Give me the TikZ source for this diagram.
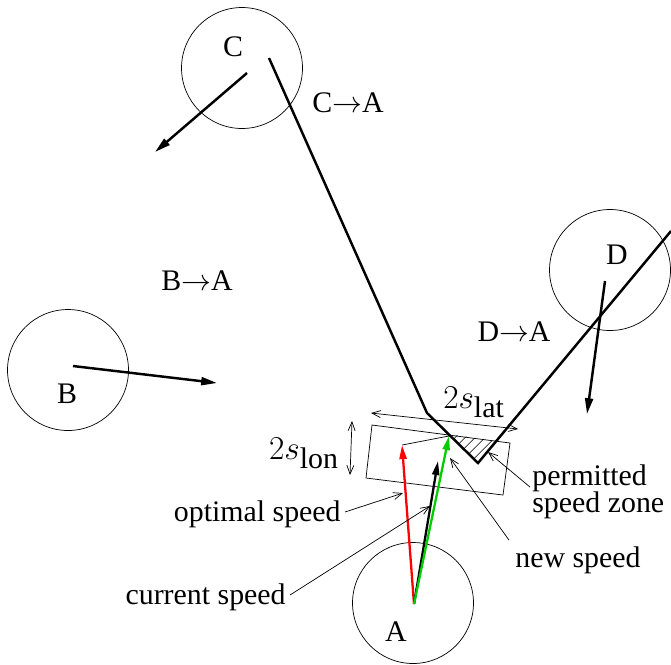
\RequirePackage{fix-cm}
\documentclass[tikz,border=0pt]{standalone}
\usepackage[no-math]{fontspec}
\setmainfont{Liberation Serif}
\usetikzlibrary{arrows.meta, patterns.meta, positioning}

\begin{document}
\begin{tikzpicture}[
    x=0.02cm, y=-0.02cm,
    agent/.style={draw, circle, thin, minimum size=2.42cm, inner sep=0pt},
    lbl/.style={font=\fontsize{17}{15.5}\selectfont, inner sep=0pt},
    dimlbl/.style={font=\fontsize{19}{22}\selectfont, inner sep=0pt},
    route/.style={line width=1.4pt},
    motion/.style={line width=1.4pt, -{Triangle[length=9pt,width=4.5pt]}},
    speed/.style={line width=1.3pt, -{Triangle[length=8pt,width=4pt]}},
    leader/.style={thin, -{Straight Barb[length=5pt,width=4pt]}},
    dimen/.style={thin, {Straight Barb[length=5pt,width=4pt]}-{Straight Barb[length=5pt,width=4pt]}}
]
    \useasboundingbox (0,0) rectangle (671,664);

    % --- agents ---
    \node[agent] (C) at (242,68) {};
    \node[agent] (B) at (68,370) {};
    \node[agent] (D) at (610,270) {};
    \node[agent] (A) at (413,603) {};
    \node[lbl] (labC) at (233,47) {C};
    \node[lbl] (labB) at (67,394) {B};
    \node[lbl] (labD) at (617,255) {D};
    \node[lbl] (labA) at (396,632) {A};

    % --- motion of the others ---
    \coordinate (c0) at (247,73);  \coordinate (c1) at (155,152);
    \coordinate (b0) at (73,366);  \coordinate (b1) at (217,383);
    \coordinate (d0) at (605,281); \coordinate (d1) at (587,414);
    \draw[motion] (c0) -- (c1);
    \draw[motion] (b0) -- (b1);
    \draw[motion] (d0) -- (d1);

    \node[lbl] (ca) at (348,103) {C$\rightarrow$A};
    \node[lbl] (ba) at (197,281) {B$\rightarrow$A};
    \node[lbl] (da) at (514,332) {D$\rightarrow$A};

    % --- route bounds ---
    \coordinate (r0) at (269,58);
    \coordinate (r1) at (427,413);
    \coordinate (r2) at (478,463);
    \coordinate (r3) at (671,231);

    % --- permitted zone ---
    \coordinate (z1) at (449.6,434.1);
    \coordinate (z2) at (496.2,441.2);
    \fill[pattern={Lines[angle=45,distance=4pt,line width=0.4pt]}] (z1) -- (z2) -- (r2) -- cycle;
    \coordinate (q1) at (372,425); \coordinate (q2) at (510,443);
    \coordinate (q3) at (503,495); \coordinate (q4) at (366,478);
    \draw[thin] (q1) -- (q2) -- (q3) -- (q4) -- cycle;
    \draw[route] (r0) -- (r1) -- (r2) -- (r3);

    % --- speeds of A ---
    \coordinate (o) at (414,604);
    \coordinate (vopt) at (402,445);
    \coordinate (vcur) at (438,461);
    \coordinate (vnew) at (449,436);
    \draw[thin] (vopt) -- (vnew);
    \draw[speed, red] (o) -- (vopt);
    \draw[speed] (o) -- (vcur);
    \draw[speed, green!80!black] (o) -- (vnew);

    % --- dimensions ---
    \coordinate (lat0) at (371,413); \coordinate (lat1) at (518,429);
    \coordinate (lon0) at (352,421); \coordinate (lon1) at (350,475);
    \draw[dimen] (lat0) -- (lat1);
    \draw[dimen] (lon0) -- (lon1);
    \node[dimlbl] (slat) at (474,402) {$2s_{\mbox{\fontsize{17}{17}\selectfont lat}}$};
    \node[dimlbl] (slon) at (304,453) {$2s_{\mbox{\fontsize{17}{17}\selectfont lon}}$};

    % --- labels ---
    \node[lbl, anchor=east] (optl) at (341,514) {optimal speed};
    \node[lbl, anchor=east] (curl) at (286,597) {current speed};
    \node[lbl] (newl) at (578,560) {new speed};
    \node[lbl, anchor=west, align=left] (perml) at (532,492) {permitted\\speed zone};
    \coordinate (optp) at (403,493);
    \coordinate (curp) at (430,506);
    \coordinate (newp) at (450,458);
    \coordinate (permp) at (488,452);
    \draw[leader] (optl.east) ++(4,-2) -- (optp);
    \draw[leader] (curl.east) ++(4,-2) -- (curp);
    \draw[leader] (newl.north west) ++(-6,-6) -- (newp);
    \draw[leader] (perml.west) ++(-2,-5) -- (permp);
\end{tikzpicture}
\end{document}
